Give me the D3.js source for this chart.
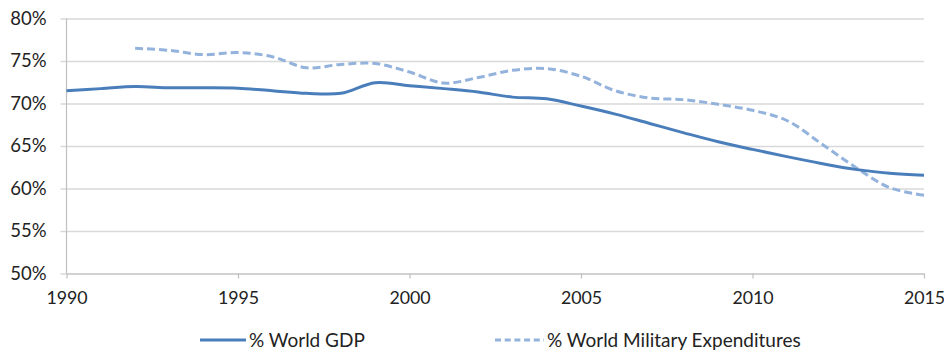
<!DOCTYPE html>
<html>
<head>
<meta charset="utf-8">
<script src="https://cdn.jsdelivr.net/npm/d3@7"></script>
<style>
  html, body { margin: 0; padding: 0; background: #fff; }
  svg { display: block; }
  text { font-family: Lato, "Open Sans", "Liberation Sans", sans-serif; fill: #222; }
</style>
</head>
<body>
<svg id="chart" width="944" height="351"></svg>
<script>
// Share of world totals, per year
const years = [1990, 1991, 1992, 1993, 1994, 1995, 1996, 1997, 1998, 1999, 2000, 2001, 2002,
               2003, 2004, 2005, 2006, 2007, 2008, 2009, 2010, 2011, 2012, 2013, 2014, 2015];
const gdpShare = [71.5, 71.75, 72.0, 71.85, 71.85, 71.8, 71.5, 71.2, 71.2, 72.45, 72.1, 71.75, 71.35,
                  70.75, 70.55, 69.7, 68.75, 67.65, 66.55, 65.5, 64.6, 63.75, 62.95, 62.25, 61.8, 61.55];
const milYears = [1992, 1993, 1994, 1995, 1996, 1997, 1998, 1999, 2000, 2001, 2002, 2003, 2004,
                  2005, 2006, 2007, 2008, 2009, 2010, 2011, 2012, 2013, 2014, 2015];
const milShare = [76.5, 76.25, 75.75, 76.0, 75.5, 74.2, 74.6, 74.7, 73.7, 72.4, 73.05, 73.9, 74.1,
                  73.2, 71.5, 70.65, 70.45, 69.9, 69.2, 68.0, 65.3, 62.5, 60.1, 59.2];
const xTicks = [1990, 1995, 2000, 2005, 2010, 2015];
const yTicks = [50, 55, 60, 65, 70, 75, 80];
const seriesNames = ["% World GDP", "% World Military Expenditures"];

const svg = d3.select("#chart");
const plotLeft = 66.5, plotRight = 924, plotTop = 18.5, plotBottom = 273.5;

const x = d3.scaleLinear().domain([1990, 2015]).range([plotLeft, plotRight]);
const y = d3.scaleLinear().domain([50, 80]).range([plotBottom, plotTop]);

const gridColor = "#d9d9d9";
const axisColor = "#bfbfbf";
const solidColor = "#4a7ebb";
const dashColor = "#94b3dc";
const labelFont = "Lato, 'Open Sans', sans-serif";
const labelSize = 18.5;

// Horizontal gridlines with short left ticks
const yAxis = d3.axisLeft(y).tickValues(yTicks).tickFormat(d => d + "%")
  .tickSize(-(plotRight - plotLeft)).tickPadding(20);
const gy = svg.append("g").attr("transform", `translate(${plotLeft},0)`).call(yAxis);
gy.select(".domain").remove();
gy.selectAll(".tick line").attr("stroke", gridColor).attr("stroke-width", 1.5)
  .attr("x1", -6);
gy.selectAll(".tick text").attr("font-size", labelSize).style("fill", "#222")
  .attr("font-family", labelFont);

// Vertical axis line
svg.append("line").attr("x1", plotLeft).attr("x2", plotLeft).attr("y1", plotTop).attr("y2", plotBottom)
  .attr("stroke", axisColor).attr("stroke-width", 1.2);

// Bottom axis
const xAxis = d3.axisBottom(x).tickValues(xTicks).tickFormat(d3.format("d"))
  .tickSize(5).tickSizeOuter(0).tickPadding(13);
const gx = svg.append("g").attr("transform", `translate(0,${plotBottom})`).call(xAxis);
gx.select(".domain").attr("stroke", axisColor).attr("stroke-width", 1.2);
gx.selectAll(".tick line").attr("stroke", axisColor).attr("stroke-width", 1.2);
gx.selectAll(".tick text").attr("font-size", 17.8).style("fill", "#222")
  .attr("font-family", labelFont);

const curve = d3.curveCatmullRom.alpha(0.5);

const lineGdp = d3.line().x((d, i) => x(years[i])).y(d => y(d)).curve(curve);
const lineMil = d3.line().x((d, i) => x(milYears[i])).y(d => y(d)).curve(curve);

svg.append("path").datum(milShare).attr("d", lineMil)
  .attr("fill", "none").attr("stroke", dashColor).attr("stroke-width", 3)
  .attr("stroke-dasharray", "8,4");

svg.append("path").datum(gdpShare).attr("d", lineGdp)
  .attr("fill", "none").attr("stroke", solidColor).attr("stroke-width", 3);

// Legend
const legend = svg.append("g");
const items = [
  { name: seriesNames[0], x0: 200, x1: 246, color: solidColor, dash: null },
  { name: seriesNames[1], x0: 495, x1: 544, color: dashColor, dash: "6,3.7" }
];
items.forEach(it => {
  legend.append("line").attr("x1", it.x0).attr("x2", it.x1).attr("y1", 340).attr("y2", 340)
    .attr("stroke", it.color).attr("stroke-width", 3).attr("stroke-dasharray", it.dash);
  legend.append("text").attr("x", it.x1 + 3).attr("y", 346.5).attr("font-size", 19)
    .attr("font-family", labelFont).text(it.name);
});
</script>
</body>
</html>
